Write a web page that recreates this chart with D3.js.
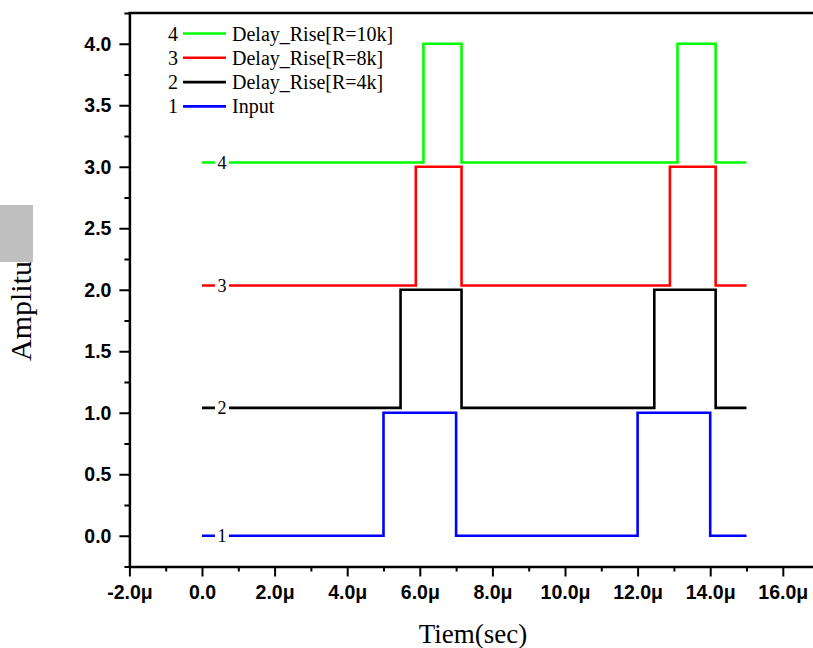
<!DOCTYPE html>
<html>
<head>
<meta charset="utf-8">
<script src="https://cdn.jsdelivr.net/npm/d3@7"></script>
<style>
  body { margin: 0; background: #fff; }
  .tick text { font-family: "Liberation Sans", Arial, sans-serif; font-weight: bold; font-size: 19.5px; fill: #000; }
  .serif { font-family: "Liberation Serif", "Times New Roman", serif; fill: #000; }
</style>
</head>
<body>
<div id="chart"></div>
<script>
// series data: edge times (μs) and levels, drawn as step-after
var inputT = [0, 5, 7, 12, 14, 15];
var inputV = [0, 1, 0, 1, 0, 0];
var r4kT = [0, 5.47, 7.15, 12.46, 14.15, 15];
var r4kV = [1.04, 2, 1.04, 2, 1.04, 1.04];
var r8kT = [0, 5.89, 7.15, 12.89, 14.15, 15];
var r8kV = [2.035, 3, 2.035, 3, 2.035, 2.035];
var r10kT = [0, 6.1, 7.15, 13.1, 14.15, 15];
var r10kV = [3.035, 4, 3.035, 4, 3.035, 3.035];

var seriesNames = ["Input", "Delay_Rise[R=4k]", "Delay_Rise[R=8k]", "Delay_Rise[R=10k]"];
var seriesIds = ["1", "2", "3", "4"];
var seriesColors = ["#0000ff", "#000000", "#ff0000", "#00ff00"];

var xTicks = [-2, 0, 2, 4, 6, 8, 10, 12, 14, 16];
var yTicks = [0, 0.5, 1, 1.5, 2, 2.5, 3, 3.5, 4];

var svgWidth = 813, svgHeight = 648;

var svg = d3.select("#chart").append("svg")
    .attr("width", svgWidth)
    .attr("height", svgHeight);

var x = d3.scaleLinear().domain([-2, 17]).range([129.4, 129.4 + 19 * 36.3]);
var y = d3.scaleLinear().domain([-0.25, 4.25]).range([566.5, 13]);

var series = [
  {t: inputT, v: inputV},
  {t: r4kT, v: r4kV},
  {t: r8kT, v: r8kV},
  {t: r10kT, v: r10kV}
];

// lines
var line = d3.line()
    .x(d => x(d[0]))
    .y(d => y(d[1]))
    .curve(d3.curveStepAfter);

series.forEach(function(s, i) {
  var pts = s.t.map((t, j) => [t, s.v[j]]);
  svg.append("path")
      .attr("d", line(pts))
      .attr("fill", "none")
      .attr("stroke", seriesColors[i])
      .attr("stroke-width", 2.6);

  // id label sitting on the start of each line
  var lx = x(0.55), ly = y(s.v[0]);
  svg.append("rect")
      .attr("x", lx - 7).attr("y", ly - 4)
      .attr("width", 14).attr("height", 8)
      .attr("fill", "#fff");
  svg.append("text")
      .attr("class", "serif")
      .attr("x", lx).attr("y", ly)
      .attr("dy", "0.35em")
      .attr("text-anchor", "middle")
      .attr("font-size", "18px")
      .text(seriesIds[i]);
});

// axes
svg.append("g")
    .attr("transform", `translate(0,${y(-0.25)})`)
    .call(d3.axisBottom(x).tickValues(xTicks).tickSize(10).tickSizeOuter(0).tickPadding(9)
      .tickFormat(d => d === 0 ? "0.0" : d.toFixed(1) + "μ"));
svg.append("g")
    .attr("transform", `translate(0,${y(-0.25)})`)
    .call(d3.axisBottom(x).tickValues(d3.range(-1, 17, 2)).tickSize(5).tickFormat(""))
    .select(".domain").remove();

svg.append("g")
    .attr("transform", `translate(${x(-2)},0)`)
    .call(d3.axisLeft(y).tickValues(yTicks).tickSize(10).tickSizeOuter(0).tickPadding(8)
      .tickFormat(d => d.toFixed(1)));
svg.append("g")
    .attr("transform", `translate(${x(-2)},0)`)
    .call(d3.axisLeft(y).tickValues([-0.25, 0.25, 0.75, 1.25, 1.75, 2.25, 2.75, 3.25, 3.75, 4.25]).tickSize(5).tickFormat(""))
    .select(".domain").remove();

svg.selectAll(".domain").attr("stroke-width", 2.5);
svg.selectAll(".tick line").attr("stroke-width", 2);

// top frame
svg.append("line")
    .attr("x1", x(-2) - 1).attr("x2", svgWidth)
    .attr("y1", y(4.25)).attr("y2", y(4.25))
    .attr("stroke", "#000").attr("stroke-width", 2.5);

// legend
var legendOrder = [3, 2, 1, 0];
legendOrder.forEach(function(i, k) {
  var ly = 33.5 + k * 24.3;
  svg.append("text").attr("class", "serif")
      .attr("x", 178).attr("y", ly).attr("dy", "0.35em")
      .attr("text-anchor", "end").attr("font-size", "20px")
      .text(seriesIds[i]);
  svg.append("line")
      .attr("x1", 183).attr("x2", 226)
      .attr("y1", ly).attr("y2", ly)
      .attr("stroke", seriesColors[i]).attr("stroke-width", 2.6);
  svg.append("text").attr("class", "serif")
      .attr("x", 232).attr("y", ly).attr("dy", "0.35em")
      .attr("font-size", "20px")
      .text(seriesNames[i]);
});

// axis titles
svg.append("text").attr("class", "serif")
    .attr("x", 473).attr("y", 643)
    .attr("text-anchor", "middle")
    .attr("font-size", "27px")
    .text("Tiem(sec)");

svg.append("text").attr("class", "serif")
    .attr("transform", "translate(31,361) rotate(-90)")
    .attr("font-size", "30px")
    .text("Amplitude");

// grey box covering the end of the y title
svg.append("rect")
    .attr("x", 0).attr("y", 205)
    .attr("width", 33).attr("height", 57)
    .attr("fill", "#c0c0c0");
</script>
</body>
</html>
